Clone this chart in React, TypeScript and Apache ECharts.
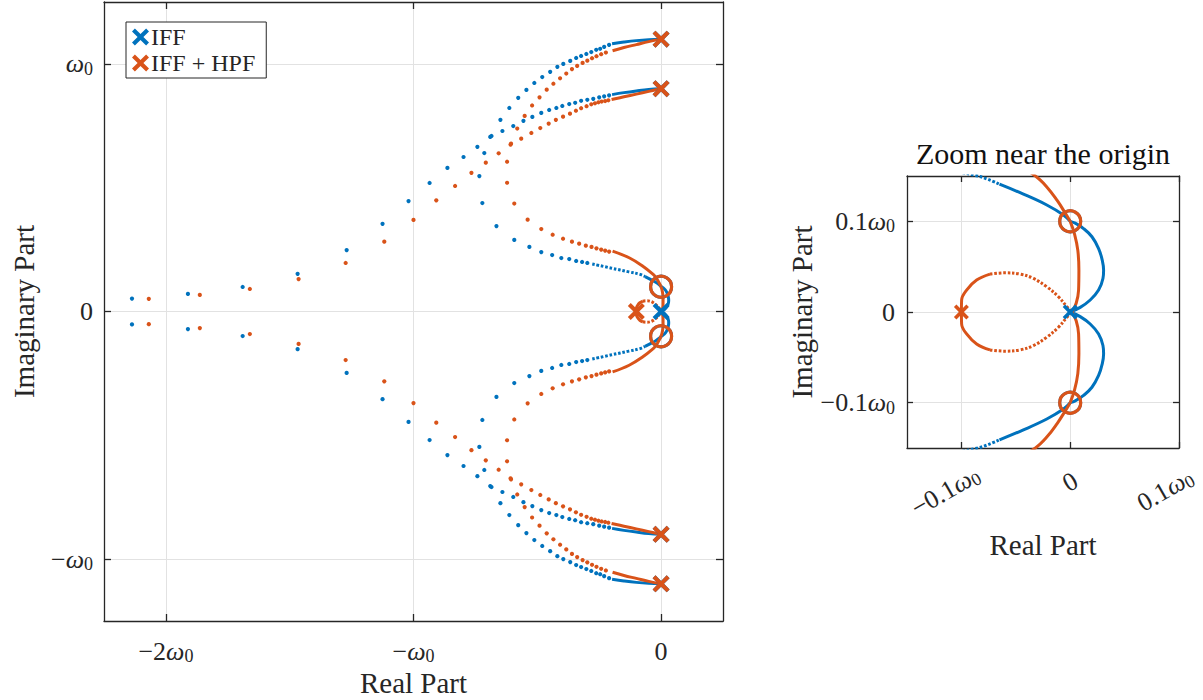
import React, { useEffect, useRef } from 'react';
import * as echarts from 'echarts';

const BLUE = '#0072BD';
const ORANGE = '#D95319';
const FONT = "'Liberation Serif', 'Times New Roman', serif";

// ---------- tick definitions ----------
const leftXTicks = [-2, -1, 0];
const leftXLabels = ['−2ω0', '−ω0', '0'];
const leftYTicks = [-1, 0, 1];
const leftYLabels = ['−ω0', '0', 'ω0'];
const rightXTicks = [-0.1, 0, 0.1];
const rightXLabels = ['−0.1ω0', '0', '0.1ω0'];
const rightYTicks = [-0.1, 0, 0.1];
const rightYLabels = ['−0.1ω0', '0', '0.1ω0'];

// ---------- poles and zeros ----------
const iffPoles = [[0, 1.1], [0, 0.9], [0, 0], [0, -0.9], [0, -1.1]];
const iffZeros = [[0, 0.1], [0, -0.1]];
const hpfPoles = [[0, 1.1], [0, 0.9], [-0.1, 0], [0, -0.9], [0, -1.1]];
const hpfZeros = [[0, 0.1], [0, -0.1]];

// ---------- IFF (blue) branches, upper half ----------
const iffHighSolid = [[0, 1.1], [-0.05, 1.098], [-0.1, 1.094], [-0.15, 1.088], [-0.198, 1.081]];
const iffHighDots = [
  [-0.21, 1.077], [-0.23, 1.069], [-0.246, 1.061], [-0.262, 1.057], [-0.282, 1.048], [-0.302, 1.04],
  [-0.323, 1.032], [-0.343, 1.024], [-0.367, 1.012], [-0.395, 1.0], [-0.419, 0.988], [-0.448, 0.968],
  [-0.48, 0.947], [-0.512, 0.923], [-0.544, 0.895], [-0.577, 0.863], [-0.613, 0.822], [-0.649, 0.774],
  [-0.69, 0.705], [-0.714, 0.64], [-0.734, 0.547], [-0.722, 0.438], [-0.665, 0.345], [-0.593, 0.289],
  [-0.532, 0.261], [-0.484, 0.24], [-0.44, 0.228], [-0.403, 0.216], [-0.371, 0.212], [-0.343, 0.204],
  [-0.319, 0.2], [-0.298, 0.196],
];
const iffHighNear = [[-0.278, 0.192], [-0.2, 0.175], [-0.13, 0.16], [-0.085, 0.15], [-0.065, 0.141]];
const iffHighEnd = [[-0.065, 0.141], [-0.043, 0.13], [-0.0215, 0.118], [-0.0062, 0.107], [0, 0.1]];

const iffLowSolid = [[0, 0.9], [-0.05, 0.897], [-0.1, 0.891], [-0.15, 0.884], [-0.198, 0.876]];
const iffLowDots = [
  [-0.21, 0.873], [-0.23, 0.869], [-0.25, 0.865], [-0.274, 0.859], [-0.298, 0.855], [-0.323, 0.851],
  [-0.347, 0.843], [-0.371, 0.838], [-0.399, 0.83], [-0.423, 0.822], [-0.452, 0.814], [-0.484, 0.802],
  [-0.52, 0.786], [-0.556, 0.77], [-0.597, 0.749], [-0.641, 0.729], [-0.685, 0.709], [-0.742, 0.665],
  [-0.798, 0.624], [-0.863, 0.58], [-0.935, 0.519], [-1.02, 0.446], [-1.125, 0.354], [-1.27, 0.248],
  [-1.468, 0.152], [-1.69, 0.099], [-1.911, 0.071], [-2.137, 0.052],
];
const iffOrigin = [
  [0, 0], [0.0092, 0.0051], [0.0184, 0.0132], [0.0261, 0.0242], [0.0301, 0.037], [0.0307, 0.046],
  [0.0295, 0.057], [0.0261, 0.07], [0.02, 0.083], [0.0123, 0.092], [0.0046, 0.098], [0, 0.1],
];

// ---------- IFF + HPF (orange) branches, upper half ----------
const hpfHighSolid = [[0, 1.1], [-0.05, 1.09], [-0.1, 1.078], [-0.15, 1.066], [-0.196, 1.053]];
const hpfHighDots = [
  [-0.223, 1.046], [-0.242, 1.039], [-0.261, 1.031], [-0.279, 1.023], [-0.298, 1.013], [-0.317, 1.004],
  [-0.339, 0.992], [-0.36, 0.979], [-0.383, 0.961], [-0.408, 0.942], [-0.435, 0.92], [-0.462, 0.896],
  [-0.491, 0.865], [-0.521, 0.832], [-0.551, 0.79], [-0.581, 0.739], [-0.606, 0.678], [-0.622, 0.605],
  [-0.622, 0.52], [-0.593, 0.436], [-0.539, 0.371], [-0.484, 0.333], [-0.438, 0.31], [-0.396, 0.294],
  [-0.36, 0.282], [-0.331, 0.274], [-0.304, 0.266], [-0.281, 0.261], [-0.261, 0.255], [-0.242, 0.25],
  [-0.226, 0.246], [-0.21, 0.242],
];
const hpfHighEnd = [
  [-0.196, 0.244], [-0.129, 0.217], [-0.075, 0.184], [-0.032, 0.15], [-0.0215, 0.138], [-0.012, 0.123],
  [-0.005, 0.11], [0, 0.1],
];
const hpfLowSolid = [[0, 0.9], [-0.05, 0.889], [-0.1, 0.878], [-0.15, 0.867], [-0.2, 0.856]];
const hpfLowDots = [
  [-0.213, 0.853], [-0.226, 0.85], [-0.24, 0.848], [-0.253, 0.845], [-0.267, 0.841], [-0.282, 0.837],
  [-0.301, 0.829], [-0.323, 0.821], [-0.344, 0.811], [-0.368, 0.799], [-0.396, 0.787], [-0.425, 0.774],
  [-0.454, 0.759], [-0.488, 0.741], [-0.524, 0.721], [-0.565, 0.698], [-0.608, 0.674], [-0.656, 0.639],
  [-0.708, 0.601], [-0.766, 0.56], [-0.832, 0.507], [-0.908, 0.449], [-1.0, 0.37], [-1.118, 0.282],
  [-1.274, 0.196], [-1.464, 0.131], [-1.661, 0.091], [-1.863, 0.067], [-2.069, 0.051],
];
const hpfLoopSolid = [[-0.1, 0], [-0.0998, 0.0132], [-0.0952, 0.0242], [-0.086, 0.0352], [-0.0737, 0.0418]];
const hpfLoopDots = [
  [-0.0737, 0.0418], [-0.0599, 0.0432], [-0.0461, 0.0418], [-0.0338, 0.037], [-0.0215, 0.0278],
  [-0.0108, 0.0168], [-0.003, 0.0058], [0.0016, 0],
];
const hpfOrigin = [
  [0.0016, 0], [0.0055, 0.0096], [0.0077, 0.024], [0.008, 0.046], [0.007, 0.068], [0.004, 0.086], [0, 0.1],
];

const X_PATH = 'path://M1.7,0L5,3.3L8.3,0L10,1.7L6.7,5L10,8.3L8.3,10L5,6.7L1.7,10L0,8.3L3.3,5L0,1.7Z';

const conj = (pts: number[][]) => pts.map(([x, y]) => [x, -y]);
const both = (pts: number[][]) => [pts, conj(pts)];

const richLabel = (label: string, pad = '') => {
  const p = pad ? `{${pad}| }` : '';
  if (label.endsWith('ω0')) {
    const pre = label.slice(0, -2);
    return (pre ? `{t|${pre}}` : '') + '{w|ω}{s|0}' + p;
  }
  return `{t|${label}}`;
};

const tickRich = (size: number) => ({
  t: { fontSize: size, fontFamily: FONT, color: '#262626', lineHeight: size + 2 },
  w: { fontSize: size, fontFamily: FONT, fontStyle: 'italic', color: '#262626', lineHeight: size + 2 },
  s: { fontSize: Math.round(size * 0.7), fontFamily: FONT, color: '#262626', lineHeight: 16, verticalAlign: 'bottom' },
  p1: { width: 32, fontSize: size },
  p2: { width: 37, fontSize: size },
});

const makeFormatter = (ticks: number[], labels: string[], pads: string[] | null = null) => (v: number) => {
  const i = ticks.findIndex((t) => Math.abs(t - v) < 1e-9);
  if (i < 0) return '';
  return richLabel(labels[i], pads ? pads[i] : '');
};

const AXC = '#262626';
const GRIDC = '#e2e2e2';

function baseAxis(extra: any) {
  return {
    type: 'value',
    nameMoveOverlap: false,
    axisLine: { show: true, onZero: false, lineStyle: { color: AXC, width: 1.3 } },
    axisTick: { show: true, inside: true, length: 7, lineStyle: { color: AXC, width: 1.3 } },
    splitLine: { show: false },
    axisLabel: { show: false },
    ...extra,
  };
}

function seriesFor(g: number) {
  const xi = g * 2;
  const yi = g * 2;
  const out: any[] = [];
  const line = (data: number[][], color: string, dotted = false, z = 2) => ({
    type: 'line', xAxisIndex: xi, yAxisIndex: yi, data, showSymbol: false, symbol: 'none',
    smooth: 0.4, silent: true, z, clip: true,
    lineStyle: { color, width: 3, opacity: 1, type: dotted ? [2.6, 1.8] : 'solid', cap: 'butt' },
  });
  const dots = (data: number[][], color: string, z = 2) => ({
    type: 'scatter', xAxisIndex: xi, yAxisIndex: yi, data, symbol: 'circle', symbolSize: 4.2,
    itemStyle: { color, opacity: 1 }, silent: true, z, clip: true,
  });
  // blue
  for (const d of both(iffHighSolid)) out.push(line(d, BLUE));
  for (const d of both(iffHighDots)) out.push(dots(d, BLUE));
  for (const d of both(iffHighNear)) out.push(line(d, BLUE, true));
  for (const d of both(iffHighEnd)) out.push(line(d, BLUE));
  for (const d of both(iffLowSolid)) out.push(line(d, BLUE));
  for (const d of both(iffLowDots)) out.push(dots(d, BLUE));
  for (const d of both(iffOrigin)) out.push(line(d, BLUE));
  // orange
  for (const d of both(hpfHighSolid)) out.push(line(d, ORANGE, false, 3));
  for (const d of both(hpfHighDots)) out.push(dots(d, ORANGE, 3));
  for (const d of both(hpfHighEnd)) out.push(line(d, ORANGE, false, 3));
  for (const d of both(hpfLowSolid)) out.push(line(d, ORANGE, false, 3));
  for (const d of both(hpfLowDots)) out.push(dots(d, ORANGE, 3));
  for (const d of both(hpfLoopSolid)) out.push(line(d, ORANGE, false, 3));
  for (const d of both(hpfLoopDots)) out.push(line(d, ORANGE, true, 3));
  for (const d of both(hpfOrigin)) out.push(line(d, ORANGE, false, 3));
  // zeros
  const crossSize = g === 0 ? 17 : 15;
  out.push({
    type: 'scatter', xAxisIndex: xi, yAxisIndex: yi, data: iffZeros, symbol: 'circle', symbolSize: 21,
    itemStyle: { color: 'none', borderColor: BLUE, borderWidth: 3, opacity: 1 }, silent: true, z: 4, clip: false,
  });
  out.push({
    type: 'scatter', xAxisIndex: xi, yAxisIndex: yi, data: hpfZeros, symbol: 'circle', symbolSize: 21,
    itemStyle: { color: 'none', borderColor: ORANGE, borderWidth: 3.2, opacity: 1 }, silent: true, z: 5, clip: false,
  });
  // poles
  out.push({
    name: 'IFF', type: 'scatter', xAxisIndex: xi, yAxisIndex: yi, data: iffPoles, symbol: X_PATH,
    symbolSize: crossSize, itemStyle: { color: BLUE, opacity: 1 }, silent: true, z: 6, clip: false,
  });
  out.push({
    name: 'IFF + HPF', type: 'scatter', xAxisIndex: xi, yAxisIndex: yi, data: hpfPoles, symbol: X_PATH,
    symbolSize: crossSize, itemStyle: { color: ORANGE, opacity: 1 }, silent: true, z: 7, clip: false,
  });
  return out;
}

export default function App() {
  const ref = useRef<HTMLDivElement>(null);
  useEffect(() => {
    if (!ref.current) return;
    const chart = echarts.init(ref.current, null, { renderer: 'svg' });
    const nameStyle = { fontSize: 29, fontFamily: FONT, color: '#262626' };
    const option: any = {
      animation: false,
      backgroundColor: '#ffffff',
      grid: [
        { left: 104, top: 2, width: 619, height: 619, outerBoundsMode: 'none', containLabel: false },
        { left: 907, top: 176, width: 272, height: 272, outerBoundsMode: 'none', containLabel: false },
      ],
      legend: {
        left: 126, top: 22, orient: 'vertical', selectedMode: false,
        borderColor: AXC, borderWidth: 1, backgroundColor: '#fff', padding: [3, 11, 3, 6],
        itemGap: 2, itemWidth: 17, itemHeight: 17,
        textStyle: { fontSize: 24, fontFamily: FONT, color: '#262626', padding: [0, 0, 0, -3] },
        data: [
          { name: 'IFF', icon: X_PATH },
          { name: 'IFF + HPF', icon: X_PATH },
        ],
      },
      xAxis: [
        baseAxis({
          gridIndex: 0, position: 'bottom', min: -2.25, max: 0.25,
          axisTick: { show: true, inside: true, length: 7, customValues: leftXTicks, lineStyle: { color: AXC, width: 1.3 } },
          axisLabel: { show: true, customValues: leftXTicks, margin: 16, formatter: makeFormatter(leftXTicks, leftXLabels), rich: tickRich(26) },
          splitLine: { show: true, lineStyle: { color: GRIDC, width: 1 } },
          name: 'Real Part', nameLocation: 'middle', nameGap: 47, nameTextStyle: nameStyle,
        }),
        baseAxis({
          gridIndex: 0, position: 'top', min: -2.25, max: 0.25,
          axisTick: { show: true, inside: true, length: 7, customValues: leftXTicks, lineStyle: { color: AXC, width: 1.3 } },
        }),
        baseAxis({
          gridIndex: 1, position: 'bottom', min: -0.15, max: 0.1,
          axisTick: { show: true, inside: true, length: 6, customValues: rightXTicks, lineStyle: { color: AXC, width: 1.3 } },
          axisLabel: {
            show: true, customValues: rightXTicks, margin: 34, rotate: 30, align: 'center', verticalAlign: 'middle',
            formatter: makeFormatter(rightXTicks, rightXLabels, ['p2', '', 'p1']), rich: tickRich(26),
          },
          splitLine: { show: true, lineStyle: { color: GRIDC, width: 1 } },
          name: 'Real Part', nameLocation: 'middle', nameGap: 82, nameTextStyle: nameStyle,
        }),
        baseAxis({
          gridIndex: 1, position: 'top', min: -0.15, max: 0.1,
          axisTick: { show: true, inside: true, length: 6, customValues: rightXTicks, lineStyle: { color: AXC, width: 1.3 } },
        }),
      ],
      yAxis: [
        baseAxis({
          gridIndex: 0, position: 'left', min: -1.25, max: 1.25,
          axisTick: { show: true, inside: true, length: 7, customValues: leftYTicks, lineStyle: { color: AXC, width: 1.3 } },
          axisLabel: { show: true, customValues: leftYTicks, margin: 11, formatter: makeFormatter(leftYTicks, leftYLabels), rich: tickRich(26) },
          splitLine: { show: true, lineStyle: { color: GRIDC, width: 1 } },
          name: 'Imaginary Part', nameLocation: 'middle', nameGap: 66, nameTextStyle: nameStyle,
        }),
        baseAxis({
          gridIndex: 0, position: 'right', min: -1.25, max: 1.25,
          axisTick: { show: true, inside: true, length: 7, customValues: leftYTicks, lineStyle: { color: AXC, width: 1.3 } },
        }),
        baseAxis({
          gridIndex: 1, position: 'left', min: -0.15, max: 0.15,
          axisTick: { show: true, inside: true, length: 6, customValues: rightYTicks, lineStyle: { color: AXC, width: 1.3 } },
          axisLabel: { show: true, customValues: rightYTicks, margin: 12, formatter: makeFormatter(rightYTicks, rightYLabels), rich: tickRich(26) },
          splitLine: { show: true, lineStyle: { color: GRIDC, width: 1 } },
          name: 'Imaginary Part', nameLocation: 'middle', nameGap: 91, nameTextStyle: nameStyle,
        }),
        baseAxis({
          gridIndex: 1, position: 'right', min: -0.15, max: 0.15,
          axisTick: { show: true, inside: true, length: 6, customValues: rightYTicks, lineStyle: { color: AXC, width: 1.3 } },
        }),
      ],
      graphic: [
        {
          type: 'text', x: 1043, y: 153, z: 10,
          style: { text: 'Zoom near the origin', fontSize: 30, fontFamily: FONT, fill: '#111', align: 'center', verticalAlign: 'middle' },
        },
      ],
      series: [...seriesFor(0), ...seriesFor(1)],
    };
    chart.setOption(option);
    return () => chart.dispose();
  }, []);
  return (
    <div
      ref={ref}
      style={{ position: 'fixed', left: 0, top: 0, width: 1203, height: 700, background: '#fff' }}
    />
  );
}
